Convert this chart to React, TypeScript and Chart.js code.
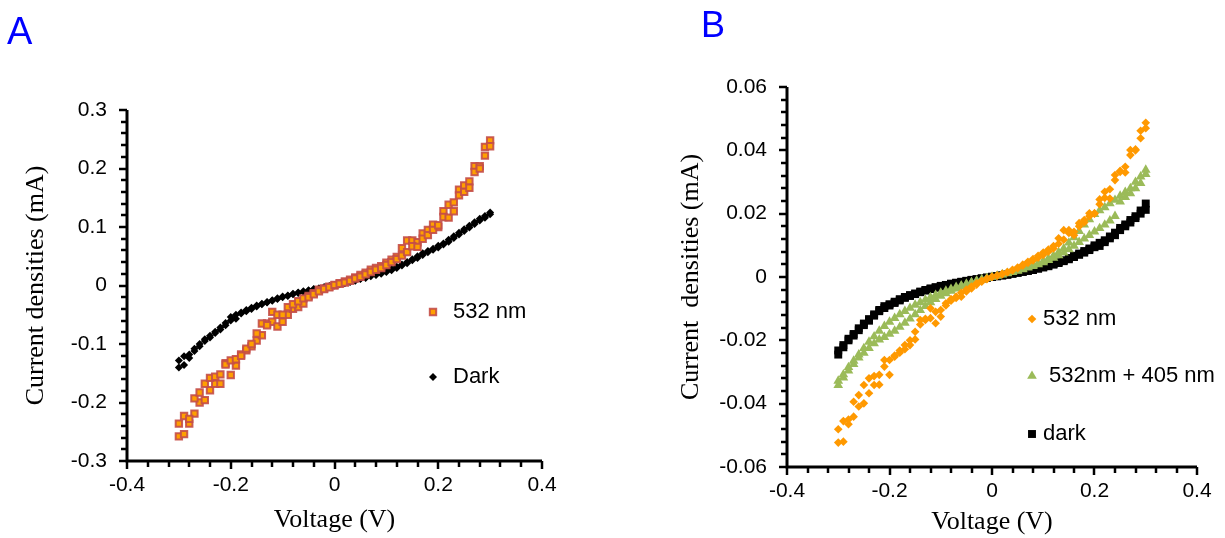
import React, { useEffect, useRef } from "react";
import { Chart, registerables } from "chart.js";
import { drawPoint } from "chart.js/helpers";

Chart.register(...registerables);

// ---------- data ----------
const voltage = [-0.30,-0.29,-0.28,-0.27,-0.26,-0.25,-0.24,-0.23,-0.22,-0.21,-0.20,-0.19,-0.18,-0.17,-0.16,-0.15,-0.14,-0.13,-0.12,-0.11,-0.10,-0.09,-0.08,-0.07,-0.06,-0.05,-0.04,-0.03,-0.02,-0.01,0.00,0.01,0.02,0.03,0.04,0.05,0.06,0.07,0.08,0.09,0.10,0.11,0.12,0.13,0.14,0.15,0.16,0.17,0.18,0.19,0.20,0.21,0.22,0.23,0.24,0.25,0.26,0.27,0.28,0.29,0.30];

// Panel A
const a532Sweep1 = [-0.258,-0.254,-0.236,-0.219,-0.200,-0.196,-0.179,-0.168,-0.168,-0.133,-0.153,-0.137,-0.118,-0.111,-0.104,-0.094,-0.085,-0.065,-0.062,-0.070,-0.062,-0.050,-0.040,-0.037,-0.031,-0.018,-0.013,-0.007,-0.005,-0.002,0.000,0.004,0.007,0.010,0.014,0.018,0.022,0.027,0.030,0.033,0.039,0.044,0.049,0.064,0.077,0.077,0.074,0.089,0.095,0.104,0.100,0.127,0.138,0.142,0.164,0.171,0.178,0.204,0.204,0.237,0.248];
const a532Sweep2 = [-0.236,-0.223,-0.228,-0.193,-0.183,-0.168,-0.158,-0.156,-0.152,-0.135,-0.128,-0.126,-0.120,-0.108,-0.100,-0.082,-0.065,-0.068,-0.045,-0.050,-0.050,-0.037,-0.032,-0.027,-0.022,-0.020,-0.015,-0.010,-0.006,-0.003,0.001,0.003,0.005,0.008,0.012,0.015,0.019,0.023,0.027,0.030,0.035,0.040,0.045,0.051,0.057,0.067,0.066,0.080,0.086,0.095,0.103,0.117,0.116,0.127,0.154,0.160,0.167,0.194,0.200,0.222,0.238];
const aDarkSweep1 = [-0.140,-0.136,-0.124,-0.112,-0.104,-0.095,-0.089,-0.081,-0.075,-0.068,-0.060,-0.057,-0.048,-0.044,-0.040,-0.036,-0.032,-0.029,-0.026,-0.023,-0.020,-0.018,-0.015,-0.013,-0.011,-0.009,-0.007,-0.005,-0.003,-0.002,0.000,0.003,0.005,0.007,0.009,0.012,0.014,0.017,0.019,0.022,0.025,0.028,0.032,0.036,0.040,0.045,0.050,0.055,0.059,0.063,0.068,0.072,0.078,0.084,0.090,0.096,0.102,0.108,0.114,0.119,0.125];
const aDarkSweep2 = [-0.128,-0.121,-0.118,-0.108,-0.100,-0.092,-0.086,-0.079,-0.072,-0.064,-0.054,-0.050,-0.046,-0.042,-0.038,-0.034,-0.031,-0.028,-0.025,-0.022,-0.019,-0.017,-0.014,-0.012,-0.010,-0.008,-0.006,-0.005,-0.003,-0.001,0.001,0.002,0.004,0.006,0.008,0.011,0.013,0.016,0.018,0.020,0.023,0.026,0.030,0.034,0.038,0.043,0.047,0.052,0.057,0.061,0.065,0.070,0.075,0.081,0.087,0.093,0.099,0.105,0.111,0.116,0.122];

// Panel B
const b532Sweep1 = [-0.0523,-0.0520,-0.0465,-0.0441,-0.0409,-0.0399,-0.0367,-0.0341,-0.0340,-0.0283,-0.0309,-0.0252,-0.0239,-0.0228,-0.0215,-0.0197,-0.0150,-0.0136,-0.0130,-0.0146,-0.0125,-0.0083,-0.0075,-0.0066,-0.0062,-0.0046,-0.0036,-0.0024,-0.0015,-0.0007,0.0000,0.0004,0.0009,0.0015,0.0021,0.0028,0.0036,0.0044,0.0052,0.0061,0.0070,0.0080,0.0090,0.0105,0.0118,0.0139,0.0143,0.0160,0.0180,0.0201,0.0200,0.0230,0.0269,0.0277,0.0306,0.0332,0.0348,0.0385,0.0403,0.0438,0.0470];
const b532Sweep2 = [-0.0481,-0.0455,-0.0450,-0.0394,-0.0373,-0.0341,-0.0320,-0.0313,-0.0309,-0.0262,-0.0262,-0.0248,-0.0232,-0.0215,-0.0200,-0.0173,-0.0136,-0.0132,-0.0099,-0.0110,-0.0104,-0.0090,-0.0070,-0.0062,-0.0050,-0.0040,-0.0030,-0.0020,-0.0012,-0.0005,0.0001,0.0005,0.0010,0.0016,0.0023,0.0030,0.0039,0.0048,0.0057,0.0067,0.0077,0.0087,0.0098,0.0122,0.0148,0.0148,0.0132,0.0170,0.0172,0.0192,0.0201,0.0245,0.0250,0.0248,0.0322,0.0335,0.0330,0.0401,0.0400,0.0462,0.0487];
const b532405Sweep1 = [-0.0342,-0.0318,-0.0296,-0.0275,-0.0255,-0.0240,-0.0225,-0.0210,-0.0198,-0.0190,-0.0180,-0.0170,-0.0158,-0.0145,-0.0132,-0.0118,-0.0105,-0.0092,-0.0080,-0.0070,-0.0060,-0.0052,-0.0044,-0.0037,-0.0030,-0.0024,-0.0018,-0.0013,-0.0008,-0.0004,0.0000,0.0004,0.0008,0.0012,0.0016,0.0021,0.0026,0.0031,0.0037,0.0043,0.0050,0.0058,0.0067,0.0078,0.0090,0.0108,0.0125,0.0145,0.0165,0.0182,0.0198,0.0210,0.0220,0.0232,0.0243,0.0256,0.0268,0.0280,0.0300,0.0317,0.0338];
const b532405Sweep2 = [-0.0328,-0.0308,-0.0285,-0.0265,-0.0245,-0.0225,-0.0205,-0.0188,-0.0170,-0.0155,-0.0142,-0.0130,-0.0118,-0.0108,-0.0098,-0.0088,-0.0080,-0.0072,-0.0064,-0.0057,-0.0050,-0.0044,-0.0038,-0.0032,-0.0027,-0.0022,-0.0017,-0.0012,-0.0008,-0.0004,0.0000,0.0003,0.0007,0.0011,0.0015,0.0019,0.0024,0.0029,0.0034,0.0040,0.0046,0.0053,0.0060,0.0068,0.0077,0.0087,0.0098,0.0110,0.0121,0.0132,0.0143,0.0154,0.0165,0.0178,0.0192,0.0238,0.0252,0.0264,0.0280,0.0296,0.0325];
const bDarkSweep1 = [-0.0245,-0.0222,-0.0200,-0.0185,-0.0168,-0.0152,-0.0138,-0.0122,-0.0108,-0.0098,-0.0090,-0.0082,-0.0074,-0.0066,-0.0060,-0.0054,-0.0048,-0.0043,-0.0038,-0.0034,-0.0030,-0.0026,-0.0022,-0.0019,-0.0016,-0.0013,-0.0010,-0.0007,-0.0005,-0.0002,0.0000,0.0002,0.0005,0.0007,0.0010,0.0013,0.0016,0.0019,0.0022,0.0026,0.0030,0.0034,0.0039,0.0044,0.0050,0.0056,0.0063,0.0070,0.0077,0.0085,0.0094,0.0098,0.0110,0.0122,0.0132,0.0148,0.0160,0.0172,0.0186,0.0200,0.0212];
const bDarkSweep2 = [-0.0232,-0.0215,-0.0195,-0.0180,-0.0162,-0.0147,-0.0133,-0.0118,-0.0104,-0.0092,-0.0086,-0.0078,-0.0070,-0.0063,-0.0057,-0.0052,-0.0046,-0.0041,-0.0036,-0.0032,-0.0028,-0.0025,-0.0021,-0.0018,-0.0015,-0.0012,-0.0009,-0.0007,-0.0004,-0.0002,0.0001,0.0003,0.0005,0.0008,0.0011,0.0014,0.0017,0.0020,0.0024,0.0028,0.0032,0.0036,0.0041,0.0047,0.0053,0.0060,0.0067,0.0074,0.0082,0.0090,0.0100,0.0108,0.0116,0.0128,0.0140,0.0155,0.0166,0.0180,0.0192,0.0210,0.0232];

const labelsA = ["532 nm", "Dark"];
const labelsB = ["532 nm", " 532nm + 405 nm", "dark"];

const xTicks = { min: -0.4, max: 0.4, step: 0.2, minor: 0.04 };
const yTicksA = { min: -0.3, max: 0.3, step: 0.1, minor: 0.02, digits: 2 };
const yTicksB = { min: -0.06, max: 0.06, step: 0.02, minor: 0.004, digits: 3 };

// ---------- helpers ----------
const sans = '"Liberation Sans", Arial, sans-serif';
const serif = '"Liberation Serif", "Times New Roman", serif';

function points(a: number[], b: number[]) {
  return voltage.map((x, i) => ({ x, y: a[i] })).concat(voltage.map((x, i) => ({ x, y: b[i] })));
}

// axis lines, major and minor tick marks, placed through the library's scales
function axesPlugin(xStep: number, xMinor: number, yStep: number, yMinor: number) {
  return {
    id: "excelAxes",
    afterDraw(chart: any) {
      const ctx = chart.ctx;
      const area = chart.chartArea;
      const xs = chart.scales.x;
      const ys = chart.scales.y;
      ctx.save();
      ctx.strokeStyle = "#000000";
      ctx.lineCap = "butt";
      // axis lines
      ctx.lineWidth = 3;
      ctx.beginPath();
      ctx.moveTo(area.left, area.top);
      ctx.lineTo(area.left, area.bottom + 1.5);
      ctx.moveTo(area.left - 1.5, area.bottom);
      ctx.lineTo(area.right, area.bottom);
      ctx.stroke();
      ctx.lineWidth = 2.5;
      const nx = Math.round((xs.max - xs.min) / xMinor);
      const xMajEvery = Math.round(xStep / xMinor);
      for (let i = 0; i <= nx; i++) {
        const px = Math.round(xs.getPixelForValue(xs.min + i * xMinor));
        const len = i % xMajEvery === 0 ? 8 : 6;
        ctx.beginPath();
        ctx.moveTo(px, area.bottom);
        ctx.lineTo(px, area.bottom + len);
        ctx.stroke();
      }
      const ny = Math.round((ys.max - ys.min) / yMinor);
      const yMajEvery = Math.round(yStep / yMinor);
      for (let i = 0; i <= ny; i++) {
        const py = Math.round(ys.getPixelForValue(ys.min + i * yMinor));
        const len = i % yMajEvery === 0 ? 8 : 6;
        ctx.beginPath();
        ctx.moveTo(area.left, py);
        ctx.lineTo(area.left - len, py);
        ctx.stroke();
      }
      ctx.restore();
    },
  };
}

function insideLegendPlugin(markerX: number, textX: number, rows: number[], labels: string[]) {
  return {
    id: "insideLegend",
    afterDraw(chart: any) {
      const ctx = chart.ctx;
      chart.data.datasets.forEach((ds: any, i: number) => {
        ctx.save();
        ctx.fillStyle = ds.pointBackgroundColor;
        ctx.strokeStyle = ds.pointBorderColor;
        ctx.lineWidth = ds.pointBorderWidth || 0;
        drawPoint(ctx, { pointStyle: ds.pointStyle, radius: ds.pointRadius, rotation: 0, borderWidth: ds.pointBorderWidth || 0 } as any, markerX, rows[i]);
        ctx.fillStyle = "#000";
        ctx.font = `22px ${sans}`;
        ctx.textAlign = "left";
        ctx.textBaseline = "middle";
        ctx.fillText(labels[i], textX, rows[i]);
        ctx.restore();
      });
    },
  };
}

type PanelProps = {
  width: number;
  height: number;
  left: number;
  area: { left: number; top: number; right: number; bottom: number };
  yTicks: { min: number; max: number; step: number; minor: number; digits: number };
  yTitle: string;
  yTitlePad: number;
  xTitlePad: number;
  datasets: any[];
  legend: { markerX: number; textX: number; rows: number[]; labels: string[] };
};

function Panel(p: PanelProps) {
  const ref = useRef<HTMLCanvasElement | null>(null);
  useEffect(() => {
    if (!ref.current) return;
    const fmt = (d: number) => (v: any) => String(Number(Number(v).toFixed(d)));
    const chart = new Chart(ref.current, {
      type: "scatter",
      data: { datasets: p.datasets },
      options: {
        responsive: false,
        animation: false,
        devicePixelRatio: 1,
        events: [],
        layout: { padding: { left: 0, top: p.area.top, right: p.width - p.area.right, bottom: 0 } },
        plugins: { legend: { display: false }, tooltip: { enabled: false } },
        scales: {
          x: {
            type: "linear",
            min: xTicks.min,
            max: xTicks.max,
            afterFit: (s: any) => { s.height = p.height - p.area.bottom; },
            ticks: { stepSize: xTicks.step, color: "#000", font: { family: sans, size: 21 }, padding: 4, callback: fmt(2), maxRotation: 0 },
            grid: { display: false, drawOnChartArea: false, drawTicks: true, tickLength: 8 },
            border: { display: false },
            title: { display: true, text: "Voltage (V)", color: "#000", font: { family: serif, size: 26 }, padding: { top: 0, bottom: p.xTitlePad } },
          },
          y: {
            type: "linear",
            min: p.yTicks.min,
            max: p.yTicks.max,
            afterFit: (s: any) => { s.width = p.area.left; },
            ticks: { stepSize: p.yTicks.step, color: "#000", font: { family: sans, size: 21 }, padding: 12, callback: fmt(p.yTicks.digits) },
            grid: { display: false, drawOnChartArea: false, drawTicks: true, tickLength: 8 },
            border: { display: false },
            title: { display: true, text: p.yTitle, color: "#000", font: { family: serif, size: 26 }, padding: { top: p.yTitlePad, bottom: 0 } },
          },
        },
      } as any,
      plugins: [
        axesPlugin(xTicks.step, xTicks.minor, p.yTicks.step, p.yTicks.minor),
        insideLegendPlugin(p.legend.markerX, p.legend.textX, p.legend.rows, p.legend.labels),
      ],
    });
    return () => chart.destroy();
  }, []);
  return (
    <canvas
      ref={ref}
      width={p.width}
      height={p.height}
      style={{ position: "absolute", left: p.left, top: 0, width: p.width, height: p.height, display: "block" }}
    />
  );
}

const datasetsA = [
  { label: labelsA[0], data: points(a532Sweep1, a532Sweep2), showLine: false, pointStyle: "rect", pointRadius: 4.5, pointBackgroundColor: "#FFA000", pointBorderColor: "rgba(196,78,72,0.9)", pointBorderWidth: 2 },
  { label: labelsA[1], data: points(aDarkSweep1, aDarkSweep2), showLine: false, pointStyle: "rectRot", pointRadius: 4, pointBackgroundColor: "#000000", pointBorderColor: "#000000", pointBorderWidth: 0 },
];

const datasetsB = [
  { label: labelsB[0], data: points(b532Sweep1, b532Sweep2), showLine: false, pointStyle: "rectRot", pointRadius: 4.3, pointBackgroundColor: "#FF9900", pointBorderColor: "#FF9900", pointBorderWidth: 0 },
  { label: labelsB[1], data: points(b532405Sweep1, b532405Sweep2), showLine: false, pointStyle: "triangle", pointRadius: 5.6, pointBackgroundColor: "#9BBB59", pointBorderColor: "#9BBB59", pointBorderWidth: 0 },
  { label: labelsB[2], data: points(bDarkSweep1, bDarkSweep2), showLine: false, pointStyle: "rect", pointRadius: 5.6, pointBackgroundColor: "#000000", pointBorderColor: "#000000", pointBorderWidth: 0 },
];

export default function App() {
  return (
    <div style={{ position: "absolute", left: 0, top: 0, width: 1225, height: 538, background: "#fff", overflow: "hidden" }}>
      <Panel
        width={612}
        height={538}
        left={0}
        area={{ left: 127, top: 110, right: 542, bottom: 461 }}
        yTicks={yTicksA}
        yTitle="Current densities (mA)"
        yTitlePad={21}
        xTitlePad={2}
        datasets={datasetsA}
        legend={{ markerX: 433, textX: 453, rows: [312, 377], labels: labelsA }}
      />
      <Panel
        width={613}
        height={538}
        left={612}
        area={{ left: 175, top: 87, right: 585, bottom: 467 }}
        yTicks={yTicksB}
        yTitle="Current  densities (mA)"
        yTitlePad={64}
        xTitlePad={0}
        datasets={datasetsB}
        legend={{ markerX: 420, textX: 431, rows: [319, 376, 434], labels: labelsB }}
      />
      <div style={{ position: "absolute", left: 7, top: 12, fontFamily: sans, fontSize: 38, lineHeight: "38px", color: "#0000FF" }}>A</div>
      <div style={{ position: "absolute", left: 701, top: 7, fontFamily: sans, fontSize: 36, lineHeight: "36px", color: "#0000FF" }}>B</div>
    </div>
  );
}
